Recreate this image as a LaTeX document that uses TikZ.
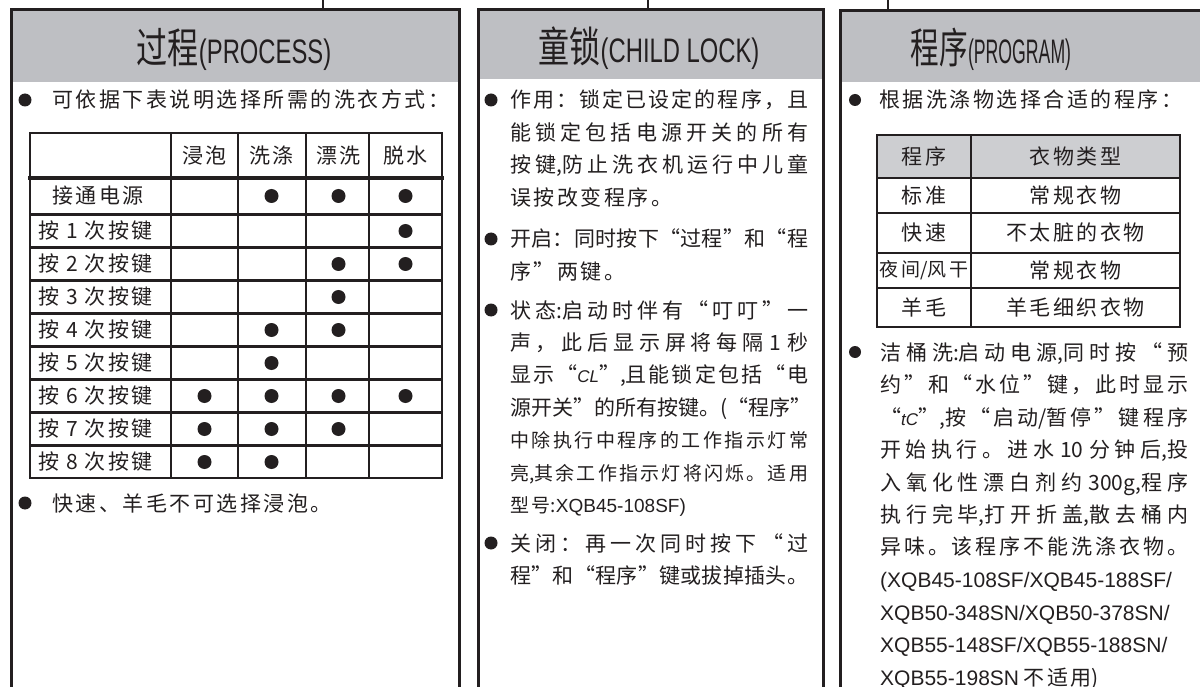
\documentclass[tikz,border=0pt]{standalone}
\usepackage{fontspec}
\usepackage{graphicx}
\setmainfont{Noto Sans CJK SC}
\newfontfamily\latin{Liberation Sans}

\definecolor{ink}{RGB}{35,31,32}
\definecolor{headgray}{RGB}{190,191,195}
\definecolor{cellgray}{RGB}{205,206,209}

% a little stretchable space between chinese glyphs, so lines can be justified
\chardef\hanclass=5
\count255="3000
\loop
  \XeTeXcharclass\count255=\hanclass
  \advance\count255 by 1
\ifnum\count255<"A000 \repeat
\count255="FF00
\loop
  \XeTeXcharclass\count255=\hanclass
  \advance\count255 by 1
\ifnum\count255<"FF60 \repeat
\XeTeXcharclass"201C=\hanclass
\XeTeXcharclass"201D=\hanclass
\XeTeXinterchartoks\hanclass\hanclass={\nobreak\hskip 2.5pt plus 4pt minus 2.5pt\relax}
\XeTeXinterchartokenstate=1

\newcommand\bodyfont{\fontsize{21}{32.5}\selectfont\tolerance=10000\hbadness=10000\exhyphenpenalty=10000\hyphenpenalty=10000\relax}
\newcommand\smallbody{\fontsize{19}{32.5}\selectfont}
\newcommand\titlehan[2][0.74]{{\XeTeXinterchartokenstate=0\fontsize{42}{42}\selectfont\scalebox{#1}[1]{#2}}}
\newcommand\titlelat[2][0.7]{{\latin\fontsize{34}{34}\selectfont\scalebox{#1}[1]{#2}}}
\newcommand\segtext[1]{{\latin\itshape\fontsize{17}{17}\selectfont #1}}

\begin{document}
\begin{tikzpicture}[x=1pt, y=-1pt,
  panel/.style={draw=ink, line width=3pt, anchor=north west, inner sep=0pt},
  head/.style={fill=headgray, anchor=north west, inner sep=0pt},
  title/.style={text=ink, inner sep=0pt, anchor=base},
  para/.style={text=ink, inner sep=0pt, anchor=base west, font=\bodyfont},
  block/.style={para, align=justify, text width=#1},
  bullet/.style={circle, fill=ink, inner sep=0pt, minimum size=13pt},
  filled dot/.style={circle, fill=ink, inner sep=0pt, minimum size=14pt},
  cell/.style={text=ink, inner sep=0pt, font=\bodyfont},
  table line/.style={draw=ink, line width=2.8pt, line cap=rect},
  wire/.style={draw=ink, line width=2.5pt}]
\useasboundingbox (0,0) rectangle (1200,687);
\fill[white] (0,0) rectangle (1200,687);

% grey heads
\node[head, minimum width=448pt, minimum height=74pt] (process head) at (10,8) {};
\node[head, minimum width=345pt, minimum height=71pt] (lock head) at (477,8) {};
\node[head, minimum width=400pt, minimum height=73pt] (program head) at (839,9) {};

% the three panels run on below the page
\node[panel, minimum width=448pt, minimum height=720pt] (process) at (10,8) {};
\node[panel, minimum width=345pt, minimum height=720pt] (lock) at (477,8) {};
\node[panel, minimum width=400pt, minimum height=720pt] (program) at (839,9) {};

\coordinate (process-up) at (323,-3);
\coordinate (lock-up) at (648,-3);
\coordinate (program-up) at (888,-3);
\foreach \p in {process,lock,program}
  \draw[wire] (\p-up) -- (\p-up |- \p.north);

\node[title] (process title) at (234,64) {\titlehan{过程}\titlelat{(PROCESS)}};
\node[title] (lock title) at (649,63) {\titlehan{童锁}\titlelat{(CHILD LOCK)}};
\node[title] (program title) at (991,64) {\titlehan[0.68]{程序}\titlelat[0.52]{(PROGRAM)}};

% process
\node[bullet] (process dot a) at (25,100) {};
\node[para] (process a) at (52,108) {可依据下表说明选择所需的洗衣方式：};

\foreach \y in {133,214.5,247.5,280.5,313.5,346.5,379.5,412.5,445.5,478}
  \draw[table line] (30,\y) -- (442,\y);
\draw[table line, line width=4pt] (30,178) -- (442,178);
\foreach \x in {30,171,238,306,369,442}
  \draw[table line] (\x,133) -- (\x,478);

\foreach \t [count=\c] in {浸泡,洗涤,漂洗,脱水}
  \node[cell] (col \c) at ({137.5+67*\c},155.5) {\t};
\node[cell] (row 0) at (98,196) {接通电源};
\foreach \n in {1,...,8}
  \node[cell, anchor=west] (row \n) at (38,{198+33*\n}) {按\hspace{7pt}\n\hspace{7pt}次按键};
\foreach \y/\cols [count=\r] in {196/{2,3,4}, 231/{4}, 264/{3,4}, 297/{3}, 330/{2,3}, 363/{2}, 396/{1,2,3,4}, 429/{1,2,3}, 462/{1,2}}
  \foreach \c in \cols
    \node[filled dot] (dot \r-\c) at ({137.5+67*\c},\y) {};

\node[bullet] (process dot b) at (25,503) {};
\node[para] (process b) at (52,511) {快速、羊毛不可选择浸泡。};

% child lock
\node[bullet] (lock dot a) at (491,100) {};
\node[block=298pt] (lock a) at (510,108) {作用：锁定已设定的程序，且\linebreak
能锁定包括电源开关的所有\linebreak
按键,防止洗衣机运行中儿童\linebreak
误按改变程序。};
\node[bullet] (lock dot b) at (491,239) {};
\node[block=298pt] (lock b) at (510,247) {开启：同时按下“过程”和“程\linebreak
序”两键。};
\node[bullet] (lock dot c) at (491,310) {};
\node[block=298pt] (lock c) at (510,318) {状态:启动时伴有“叮叮”一\linebreak
声，此后显示屏将每隔 1 秒\linebreak
显示“\segtext{CL}”,且能锁定包括“电\linebreak
源开关”的所有按键。(“程序”\linebreak
{\smallbody 中除执行中程序的工作指示灯常\linebreak
亮,其余工作指示灯将闪烁。适用\linebreak
型号:{\latin XQB45-108SF)}}};
\node[bullet] (lock dot d) at (491,543) {};
\node[block=298pt] (lock d) at (510,551) {关闭：再一次同时按下 “过\linebreak
程”和“程序”键或拔掉插头。};

% program
\node[bullet, minimum size=12pt] (program dot a) at (855,100) {};
\node[para] (program a) at (879,108) {根据洗涤物选择合适的程序：};

\fill[cellgray] (877,135) rectangle (1180,178);
\foreach \y in {135,178,213,253,288,327}
  \draw[table line] (877,\y) -- (1180,\y);
\foreach \x in {877,971,1180}
  \draw[table line] (\x,135) -- (\x,327);
\foreach \a/\b/\y [count=\r] in {程序/衣物类型/156.5, 标准/常规衣物/195.5, 快速/不太脏的衣物/233, {\fontsize{19}{19}\selectfont 夜间/风干}/常规衣物/270.5, 羊毛/羊毛细织衣物/307.5} {
  \node[cell] (kind \r) at (924,\y) {\a};
  \node[cell] (cloth \r) at (1075.5,\y) {\b};
}

\node[bullet, minimum size=12pt] (program dot b) at (855,352) {};
\node[block=308pt] (program b) at (880,360) {洁桶洗:启动电源,同时按“预\linebreak
约”和“水位”键，此时显示\linebreak
“\segtext{tC}”,按“启动/暂停”键程序\linebreak
开始执行。进水 10 分钟后,投\linebreak
入氧化性漂白剂约 300g,程序\linebreak
执行完毕,打开折盖,散去桶内\linebreak
异味。该程序不能洗涤衣物。\linebreak
{\latin (XQB45-108SF/XQB45-188SF/\linebreak
XQB50-348SN/XQB50-378SN/\linebreak
XQB55-148SF/XQB55-188SN/\linebreak
XQB55-198SN} 不适用)};
\end{tikzpicture}
\end{document}
